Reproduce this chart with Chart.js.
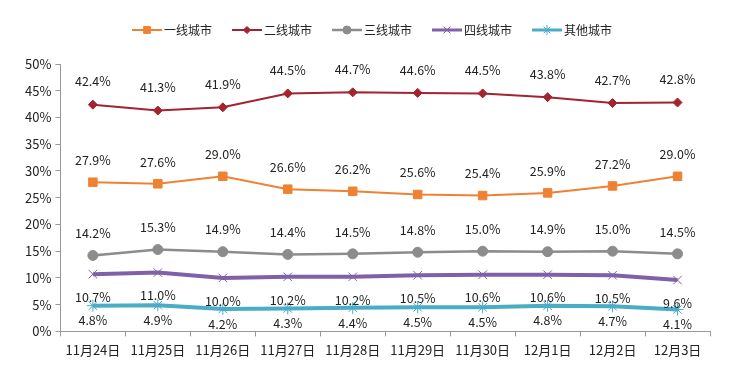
<!DOCTYPE html>
<html>
<head>
<meta charset="utf-8">
<script src="https://cdn.jsdelivr.net/npm/chart.js@4/dist/chart.umd.min.js"></script>
<style>
  html, body { margin: 0; padding: 0; background: #fff; }
  #wrap { width: 736px; height: 366px; }
</style>
</head>
<body>
<div id="wrap"><canvas id="chart" width="736" height="366"></canvas></div>
<script>
const days = ["11月24日", "11月25日", "11月26日", "11月27日", "11月28日", "11月29日", "11月30日", "12月1日", "12月2日", "12月3日"];
const tier1 = [27.9, 27.6, 29.0, 26.6, 26.2, 25.6, 25.4, 25.9, 27.2, 29.0];
const tier2 = [42.4, 41.3, 41.9, 44.5, 44.7, 44.6, 44.5, 43.8, 42.7, 42.8];
const tier3 = [14.2, 15.3, 14.9, 14.4, 14.5, 14.8, 15.0, 14.9, 15.0, 14.5];
const tier4 = [10.7, 11.0, 10.0, 10.2, 10.2, 10.5, 10.6, 10.6, 10.5, 9.6];
const others = [4.8, 4.9, 4.2, 4.3, 4.4, 4.5, 4.5, 4.8, 4.7, 4.1];

const fontFam = '"Noto Sans CJK SC", "Noto Sans", sans-serif';

// label offset (px) from the point, per series
const labelOffsets = [-22, -23, -22, 23, 15];

const labelPlugin = {
  id: "pointLabels",
  afterDatasetsDraw(chart) {
    const ctx = chart.ctx;
    ctx.save();
    ctx.font = "12.5px " + fontFam;
    ctx.fillStyle = "#222";
    ctx.textAlign = "center";
    ctx.textBaseline = "middle";
    chart.data.datasets.forEach((ds, i) => {
      const meta = chart.getDatasetMeta(i);
      meta.data.forEach((pt, j) => {
        ctx.fillText(ds.data[j].toFixed(1) + "%", pt.x, pt.y + labelOffsets[i]);
      });
    });
    ctx.restore();
  }
};

// legend drawn by hand so each entry shows line + marker
const legendPlugin = {
  id: "lineLegend",
  afterDraw(chart) {
    const ctx = chart.ctx;
    const sets = chart.data.datasets;
    ctx.save();
    ctx.font = "12px " + fontFam;
    ctx.textBaseline = "middle";
    const lineW = 30, gap = 2, spacing = 20;
    let total = 0;
    const widths = sets.map(ds => ctx.measureText(ds.label).width);
    widths.forEach(w => total += lineW + gap + w);
    total += spacing * (sets.length - 1);
    let x = (chart.width - total) / 2 + 4;
    const y = 30;
    sets.forEach((ds, i) => {
      ctx.strokeStyle = ds.borderColor;
      ctx.lineWidth = Math.min(ds.borderWidth, 3);
      ctx.beginPath();
      ctx.moveTo(x, y);
      ctx.lineTo(x + lineW, y);
      ctx.stroke();
      ctx.fillStyle = ds.borderColor;
      ctx.strokeStyle = ds.borderColor;
      ctx.lineWidth = 1;
      Chart.helpers.drawPoint(ctx, {
        pointStyle: ds.pointStyle,
        radius: ds.pointRadius * 0.8,
        borderWidth: 1,
        rotation: 0
      }, x + lineW / 2, y);
      ctx.fillStyle = "#222";
      ctx.textAlign = "left";
      ctx.fillText(ds.label, x + lineW + gap, y);
      x += lineW + gap + widths[i] + spacing;
    });
    ctx.restore();
  }
};

function series(label, data, color, width, style, radius) {
  return {
    label: label,
    data: data,
    borderColor: color,
    backgroundColor: color,
    borderWidth: width,
    pointStyle: style,
    pointRadius: radius,
    pointHoverRadius: radius,
    pointBackgroundColor: color,
    pointBorderColor: color,
    pointBorderWidth: 1,
    tension: 0
  };
}

new Chart(document.getElementById("chart"), {
  type: "line",
  data: {
    labels: days,
    datasets: [
      series("一线城市", tier1, "#EF8232", 2, "rect", 6),
      series("二线城市", tier2, "#A3232F", 2, "rectRot", 4.5),
      series("三线城市", tier3, "#8C8C8C", 2.5, "circle", 5),
      series("四线城市", tier4, "#8061A9", 4, "crossRot", 6),
      series("其他城市", others, "#4BACC6", 4, "star", 6)
    ]
  },
  options: {
    responsive: false,
    animation: false,
    layout: { padding: { top: 64, left: 21, right: 26, bottom: 2 } },
    plugins: {
      legend: { display: false },
      tooltip: { enabled: false }
    },
    scales: {
      x: {
        offset: true,
        grid: { offset: true, drawOnChartArea: false, color: "#999", tickLength: 5 },
        border: { color: "#999" },
        ticks: { color: "#222", font: { size: 13, family: fontFam }, maxRotation: 0, padding: 6 }
      },
      y: {
        min: 0,
        max: 50,
        grid: { drawOnChartArea: false, color: "#999", tickLength: 5 },
        border: { color: "#999" },
        ticks: {
          stepSize: 5,
          color: "#222",
          font: { size: 13, family: fontFam },
          padding: 4,
          callback: v => v + "%"
        }
      }
    }
  },
  plugins: [labelPlugin, legendPlugin]
});
</script>
</body>
</html>
